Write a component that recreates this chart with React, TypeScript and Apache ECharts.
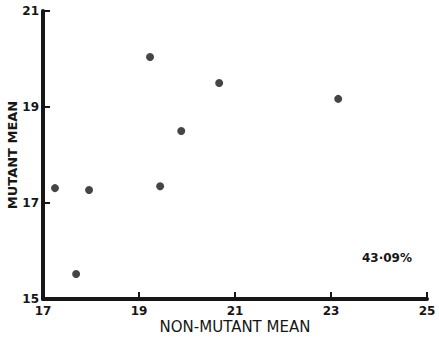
import React, { useEffect, useRef } from "react";
import * as echarts from "echarts";

const nonMutantMean = [17.25, 17.96, 17.69, 19.44, 19.23, 19.88, 20.67, 23.15];
const mutantMean = [17.31, 17.27, 15.52, 17.35, 20.04, 18.5, 19.5, 19.17];
const xTicks = [17, 19, 21, 23, 25];
const yTicks = [15, 17, 19, 21];
const annotation = "43·09%";

export default function App() {
  const ref = useRef<HTMLDivElement>(null);
  useEffect(() => {
    if (!ref.current) return;
    const chart = echarts.init(ref.current, undefined, { renderer: "svg" });
    const ink = "#161616";
    const font = "DejaVu Sans";
    chart.setOption({
      animation: false,
      backgroundColor: "#ffffff",
      grid: { left: 43, right: 12, top: 11, bottom: 38, outerBoundsMode: "none", containLabel: false },
      xAxis: {
        type: "value",
        min: xTicks[0],
        max: xTicks[xTicks.length - 1],
        interval: 2,
        name: "NON-MUTANT MEAN",
        nameLocation: "middle",
        nameGap: 20,
        nameMoveOverlap: false,
        nameTextStyle: { color: ink, fontFamily: font, fontSize: 15 },
        axisLine: { show: true, lineStyle: { color: ink, width: 4 } },
        axisTick: { show: true, inside: true, length: 7, lineStyle: { color: ink, width: 2 } },
        axisLabel: { color: ink, fontFamily: font, fontSize: 12, fontWeight: "bold", margin: 6 },
        splitLine: { show: false },
      },
      yAxis: {
        type: "value",
        min: yTicks[0],
        max: yTicks[yTicks.length - 1],
        interval: 2,
        name: "MUTANT MEAN",
        nameLocation: "middle",
        nameGap: 24,
        nameMoveOverlap: false,
        nameTextStyle: { color: ink, fontFamily: font, fontSize: 13, fontWeight: "bold" },
        axisLine: { show: true, lineStyle: { color: ink, width: 4 } },
        axisTick: { show: true, inside: true, length: 7, lineStyle: { color: ink, width: 2 } },
        axisLabel: { color: ink, fontFamily: font, fontSize: 12, fontWeight: "bold", margin: 4 },
        splitLine: { show: false },
      },
      graphic: [
        {
          type: "text",
          left: 362,
          top: 252,
          style: { text: annotation, fill: ink, font: "bold 12px DejaVu Sans" },
        },
      ],
      series: [
        {
          type: "scatter",
          data: nonMutantMean.map((x, i) => [x, mutantMean[i]]),
          symbol: "circle",
          symbolSize: 8,
          itemStyle: { color: ink },
        },
      ],
    });
    return () => chart.dispose();
  }, []);
  return <div ref={ref} style={{ width: 439, height: 337, position: "absolute", left: 0, top: 0 }} />;
}
